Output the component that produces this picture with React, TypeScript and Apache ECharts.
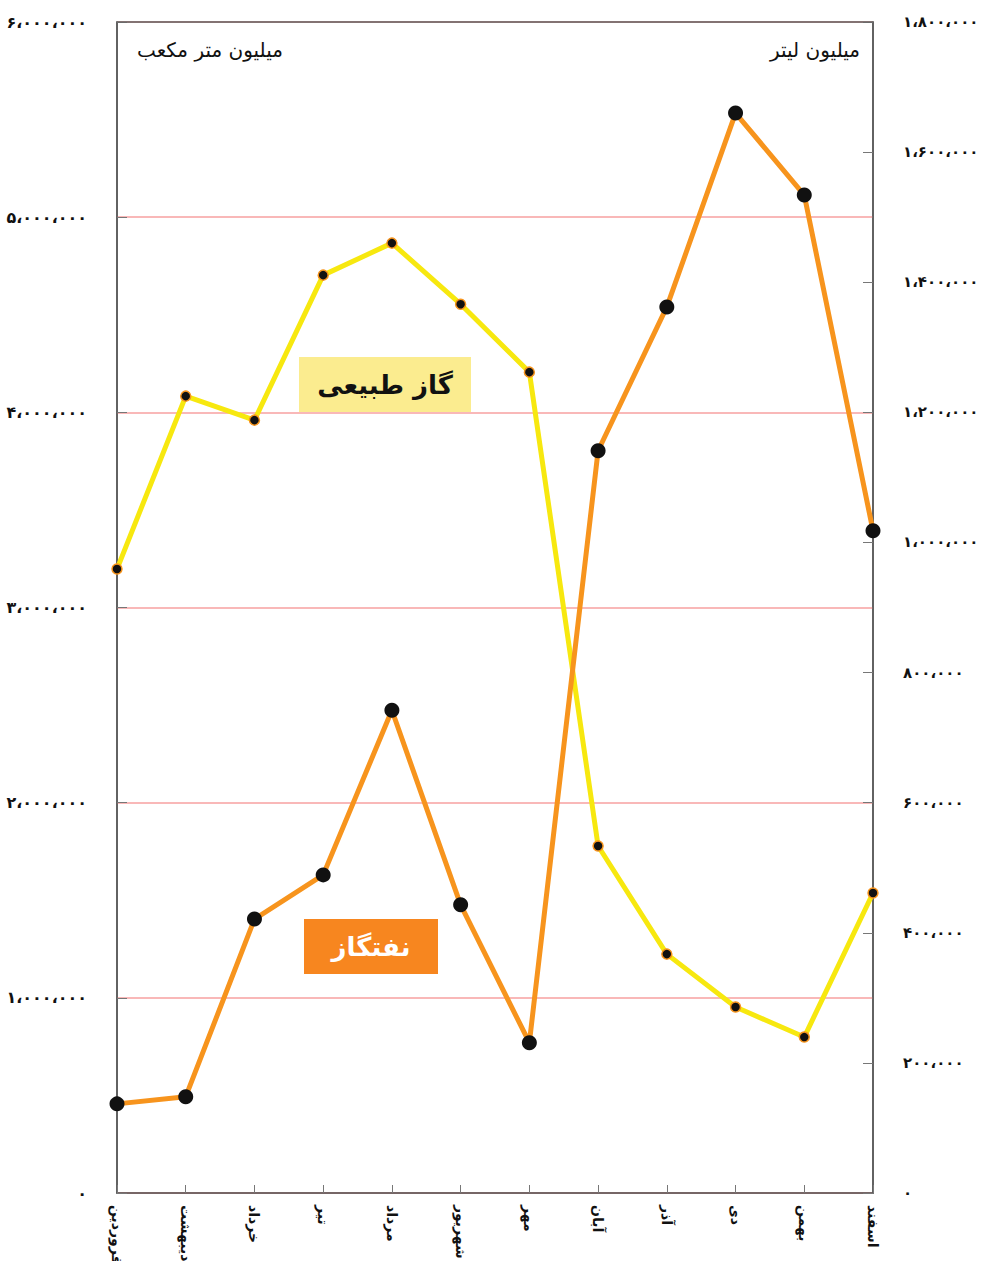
import React, { useEffect, useRef } from "react";
import * as echarts from "echarts";

const months = [
  "فروردین",
  "اردیبهشت",
  "خرداد",
  "تیر",
  "مرداد",
  "شهریور",
  "مهر",
  "آبان",
  "آذر",
  "دی",
  "بهمن",
  "اسفند",
];

// natural gas, million cubic metres (left axis)
const gasValues = [
  3197000, 4083000, 3960000, 4703000, 4867000, 4554000, 4206000, 1778000,
  1224000, 953000, 799000, 1537000,
];

// naftgaz, million litres (right axis)
const naftgazValues = [
  137000, 148000, 421000, 489000, 742000, 443000, 231000, 1141000, 1362000,
  1660000, 1534000, 1018000,
];

const gasName = "گاز طبیعی";
const naftgazName = "نفتگاز";
const leftUnit = "میلیون متر مکعب";
const rightUnit = "میلیون لیتر";

const persianDigits = ["۰", "۱", "۲", "۳", "۴", "۵", "۶", "۷", "۸", "۹"];

function toPersian(v: number): string {
  const s = Math.round(v).toString();
  let out = "";
  for (let i = 0; i < s.length; i++) {
    const fromEnd = s.length - i;
    out += persianDigits[Number(s[i])];
    if (fromEnd > 1 && (fromEnd - 1) % 3 === 0) out += "،";
  }
  return out;
}

const FONT = "DejaVu Sans";

export default function App() {
  const ref = useRef<HTMLDivElement>(null);

  useEffect(() => {
    if (!ref.current) return;
    const chart = echarts.init(ref.current, undefined, { renderer: "svg" });
    chart.setOption({
      animation: false,
      backgroundColor: "#ffffff",
      textStyle: { fontFamily: FONT },
      grid: {
        left: 117,
        right: 111,
        top: 22,
        bottom: 68,
        outerBoundsMode: "none",
        containLabel: false,
        show: true,
        borderColor: "#666",
        borderWidth: 1.5,
        backgroundColor: "transparent",
      },
      xAxis: {
        type: "category",
        data: months,
        boundaryGap: false,
        axisLine: { lineStyle: { color: "#555", width: 1.5 } },
        axisTick: { inside: true, length: 8, lineStyle: { color: "#777" } },
        axisLabel: {
          rotate: -90,
          margin: 12,
          fontSize: 14,
          fontWeight: "bold",
          color: "#111",
          fontFamily: FONT,
          interval: 0,
        },
        splitLine: { show: false },
      },
      yAxis: [
        {
          type: "value",
          min: 0,
          max: 6000000,
          interval: 1000000,
          position: "left",
          axisLine: { show: true, lineStyle: { color: "#555", width: 1.5 } },
          axisTick: { show: true, inside: true, length: 10, lineStyle: { color: "#777" } },
          axisLabel: {
            margin: 30,
            fontSize: 16,
            fontWeight: "bold",
            color: "#111",
            fontFamily: FONT,
            formatter: (v: number) => toPersian(v),
          },
          splitLine: { show: true, lineStyle: { color: "#f7a0a0", width: 1.5 } },
        },
        {
          type: "value",
          min: 0,
          max: 1800000,
          interval: 200000,
          position: "right",
          axisLine: { show: true, lineStyle: { color: "#555", width: 1.5 } },
          axisTick: { show: true, inside: true, length: 10, lineStyle: { color: "#777" } },
          axisLabel: {
            margin: 30,
            fontSize: 15,
            fontWeight: "bold",
            color: "#111",
            fontFamily: FONT,
            formatter: (v: number) => toPersian(v),
          },
          splitLine: { show: false },
        },
      ],
      series: [
        {
          name: gasName,
          type: "line",
          yAxisIndex: 0,
          data: gasValues,
          symbol: "circle",
          symbolSize: 10,
          lineStyle: { color: "#f7e80f", width: 5 },
          itemStyle: { color: "#111", borderColor: "#f7941d", borderWidth: 1.5 },
          z: 2,
        },
        {
          name: naftgazName,
          type: "line",
          yAxisIndex: 1,
          data: naftgazValues,
          symbol: "circle",
          symbolSize: 15,
          lineStyle: { color: "#f7941d", width: 5 },
          itemStyle: { color: "#111", borderWidth: 0 },
          z: 3,
        },
      ],
      graphic: [
        {
          type: "line",
          shape: { x1: 117, y1: 22, x2: 873, y2: 22 },
          style: { stroke: "#666", lineWidth: 1.5 },
          z: 5,
        },
        {
          type: "text",
          left: 137,
          top: 40,
          style: { text: leftUnit, fontSize: 20, fontFamily: FONT, fill: "#111" },
        },
        {
          type: "text",
          right: 984 - 860,
          top: 40,
          style: { text: rightUnit, fontSize: 20, fontFamily: FONT, fill: "#111" },
        },
        {
          type: "rect",
          shape: { x: 299, y: 357, width: 172, height: 55 },
          style: { fill: "#fbec8f" },
          z: 10,
        },
        {
          type: "text",
          x: 385,
          y: 384.5,
          style: {
            text: gasName,
            fontSize: 26,
            fontWeight: "bold",
            fontFamily: FONT,
            fill: "#111",
            align: "center",
            verticalAlign: "middle",
          },
          z: 11,
        },
        {
          type: "rect",
          shape: { x: 304, y: 919, width: 134, height: 55 },
          style: { fill: "#f7861f" },
          z: 10,
        },
        {
          type: "text",
          x: 371,
          y: 946.5,
          style: {
            text: naftgazName,
            fontSize: 26,
            fontWeight: "bold",
            fontFamily: FONT,
            fill: "#ffffff",
            align: "center",
            verticalAlign: "middle",
          },
          z: 11,
        },
      ],
    });
    return () => chart.dispose();
  }, []);

  return (
    <div
      ref={ref}
      style={{ position: "absolute", left: 0, top: 0, width: 984, height: 1261 }}
    />
  );
}
